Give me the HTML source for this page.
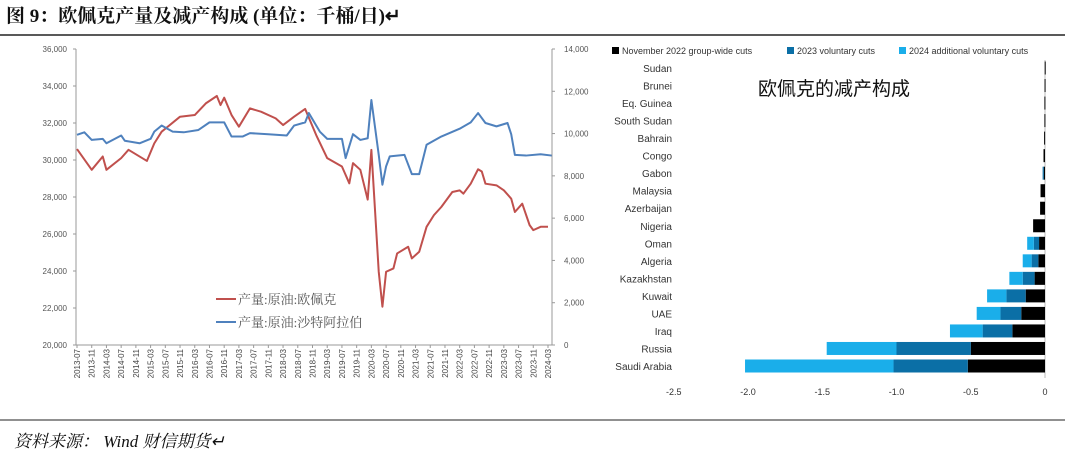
<!DOCTYPE html>
<html><head><meta charset="utf-8">
<style>
html,body{margin:0;padding:0;background:#fff;}
svg{display:block;}
</style></head>
<body>
<svg id="root" width="1080" height="455" viewBox="0 0 1080 455" xmlns="http://www.w3.org/2000/svg">
  <text x="6" y="22" font-family="'Liberation Serif','Noto Serif CJK SC',serif" font-size="19" font-weight="bold" fill="#111">图 9：欧佩克产量及减产构成  (单位：千桶/日)↵</text>
  <line x1="0" y1="35" x2="1065" y2="35" stroke="#222" stroke-width="1.5"/>
  <line x1="0" y1="420" x2="1065" y2="420" stroke="#222" stroke-width="1"/>
  <text x="14" y="447" font-family="'Liberation Serif','Noto Serif CJK SC',serif" font-size="17" font-style="italic" fill="#111">资料来源：  Wind 财信期货↵</text>
  <g id="left"></g>
  <g id="right"></g>
</svg>
<script>
// ---------- Left chart data ----------
const lMonths = [0,4,7,8,12,14,19,21,23,28,32,35,38,39,40,42,44,47,50,54,56,59,62,65,68,72,74,75,77,79,80,82,83,84,86,87,90,91,93,95,97,99,102,104,105,107,109,110,111,114,116,118,119,121,123,124,126,128];
const opecValues = [30590,29470,30190,29470,30100,30550,29950,30900,31530,32340,32430,33060,33460,32970,33370,32430,31800,32790,32610,32250,31890,32340,32760,31350,30100,29650,28740,29830,29470,27860,30550,23960,22070,23960,24140,24950,25310,24680,25040,26390,27020,27460,28270,28360,28180,28720,29500,29380,28720,28630,28360,27910,27190,27640,26480,26210,26390,26390];
const saMonths = [0,2,4,7,8,12,13,17,20,21,23,26,29,33,36,40,42,45,47,52,57,59,62,63,66,68,72,73,75,77,79,80,82,83,84,85,89,91,93,95,99,104,107,109,111,114,117,118,119,122,126,129];
const saudiValues = [9940,10060,9700,9750,9540,9910,9660,9540,9750,10090,10380,10090,10060,10170,10530,10530,9860,9860,10020,9970,9910,10380,10530,10970,10090,9750,9750,8840,9970,9700,9780,11590,8990,7580,8450,8920,8990,8080,8080,9470,9860,10230,10530,10970,10500,10340,10500,9970,8990,8960,9020,8960];
const leftTicks = ["36,000","34,000","32,000","30,000","28,000","26,000","24,000","22,000","20,000"];
const leftTickValues = [36000,34000,32000,30000,28000,26000,24000,22000,20000];
const rightTicks = ["14,000","12,000","10,000","8,000","6,000","4,000","2,000","0"];
const rightTickValues = [14000,12000,10000,8000,6000,4000,2000,0];
const xLabels = ["2013-07","2013-11","2014-03","2014-07","2014-11","2015-03","2015-07","2015-11","2016-03","2016-07","2016-11","2017-03","2017-07","2017-11","2018-03","2018-07","2018-11","2019-03","2019-07","2019-11","2020-03","2020-07","2020-11","2021-03","2021-07","2021-11","2022-03","2022-07","2022-11","2023-03","2023-07","2023-11","2024-03"];

// ---------- Right chart data ----------
const countries = ["Sudan","Brunei","Eq. Guinea","South Sudan","Bahrain","Congo","Gabon","Malaysia","Azerbaijan","Nigeria","Oman","Algeria","Kazakhstan","Kuwait","UAE","Iraq","Russia","Saudi Arabia"];
const cuts2022 = [0.002,0.003,0.004,0.004,0.006,0.01,0.008,0.03,0.033,0.08,0.04,0.045,0.07,0.13,0.16,0.22,0.5,0.52];
const cuts2023 = [0,0,0,0,0,0,0.008,0,0,0,0.035,0.045,0.08,0.13,0.14,0.2,0.5,0.5];
const cuts2024 = [0,0,0,0,0,0,0,0,0,0,0.045,0.06,0.09,0.13,0.16,0.22,0.47,1.0];
const xTickValues = [-2.5,-2.0,-1.5,-1.0,-0.5,0];
const xTickLabels = ["-2.5","-2.0","-1.5","-1.0","-0.5","0"];
const seriesNames = ["November 2022 group-wide cuts","2023 voluntary cuts","2024 additional voluntary cuts"];
const seriesColors = ["#000000","#0b6fa6","#1aaeea"];

const NS = "http://www.w3.org/2000/svg";
function mk(tag, attrs, parent){ const e=document.createElementNS(NS,tag); for(const k in attrs) e.setAttribute(k,attrs[k]); parent.appendChild(e); return e; }

// ---- left chart ----
(function(){
  const g = document.getElementById('left');
  const L=76, R=552, T=49, B=345;
  const x0=77, x1=548, mMax=128;
  const xs = m => x0 + (x1-x0)*m/mMax;
  const yl = v => B - (v-20000)/(36000-20000)*(B-T);
  const yr = v => B - v/14000*(B-T);
  const fnt = "'Liberation Sans',sans-serif";
  let e = mk('line',{x1:L,y1:T,x2:L,y2:B,stroke:'#999','stroke-width':1},g);
   
  e = mk('line',{x1:R,y1:T,x2:R,y2:B,stroke:'#999','stroke-width':1},g);
   
  e = mk('line',{x1:L,y1:B,x2:R,y2:B,stroke:'#999','stroke-width':1},g);
   
  leftTickValues.forEach((v,i)=>{
    const t = mk('text',{x:L-9,y:yl(v)+3,'text-anchor':'end','font-family':fnt,'font-size':8,fill:'#555'},g);
    t.textContent = leftTicks[i];
     
    mk('line',{x1:L-3,y1:yl(v),x2:L,y2:yl(v),stroke:'#999'},g);
  });
  rightTickValues.forEach((v,i)=>{
    const t = mk('text',{x:R+12,y:yr(v)+3,'text-anchor':'start','font-family':fnt,'font-size':8,fill:'#555'},g);
    t.textContent = rightTicks[i];
     
    mk('line',{x1:R,y1:yr(v),x2:R+3,y2:yr(v),stroke:'#999'},g);
  });
  xLabels.forEach((lab,i)=>{
    const x = xs(i*4);
    mk('line',{x1:x,y1:B,x2:x,y2:B+3,stroke:'#999'},g);
    const t = mk('text',{x:0,y:0,transform:`translate(${x+3},${B+4}) rotate(-90)`,'text-anchor':'end','font-family':fnt,'font-size':8,fill:'#444'},g);
    t.textContent = lab;
     
  });
  const p1 = mk('polyline',{points:lMonths.map((m,i)=>xs(m)+','+yl(opecValues[i])).join(' '),fill:'none',stroke:'#c0504d','stroke-width':2,'stroke-linejoin':'round'},g);
   
  const p2 = mk('polyline',{points:saMonths.map((m,i)=>xs(m)+','+yr(saudiValues[i])).join(' '),fill:'none',stroke:'#4f81bd','stroke-width':2,'stroke-linejoin':'round'},g);
   
  const leg=[["#c0504d","产量:原油:欧佩克",299],["#4f81bd","产量:原油:沙特阿拉伯",322]];
  leg.forEach(l=>{
    const ln = mk('line',{x1:216,y1:l[2],x2:236,y2:l[2],stroke:l[0],'stroke-width':2},g);
     
    const t = mk('text',{x:238,y:l[2]+5,'font-family':"'Liberation Serif','Noto Serif CJK SC',serif",'font-size':13,fill:'#555'},g);
    t.textContent=l[1];
     
  });
})();

// ---- right chart ----
(function(){
  const g = document.getElementById('right');
  const zeroX=1045, unit=148.5;
  const xv = v => zeroX + v*unit;
  const rowY = i => 68 + i*(366-68)/17;
  const fnt = "'Liberation Sans',sans-serif";
  // legend
  let lx=612;
  const legW=[175,112,160];
  seriesNames.forEach((n,i)=>{
    const r = mk('rect',{x:lx,y:47,width:7,height:7,fill:seriesColors[i]},g);
     
    const t = mk('text',{x:lx+10,y:54,'font-family':fnt,'font-size':9,fill:'#333'},g);
    t.textContent=n;
     
    lx += legW[i];
  });
  const tt = mk('text',{x:758,y:95,'font-family':"'Liberation Sans','Noto Sans CJK SC',sans-serif",'font-size':19,fill:'#111'},g);
  tt.textContent='欧佩克的减产构成';
   
  const ax = mk('line',{x1:zeroX,y1:60,x2:zeroX,y2:378,stroke:'#bbb','stroke-width':1},g);
   
  countries.forEach((c,i)=>{
    const y=rowY(i);
    const t = mk('text',{x:672,y:y+4,'text-anchor':'end','font-family':fnt,'font-size':10,fill:'#333'},g);
    t.textContent=c;
     
    let start=0;
    [cuts2022,cuts2023,cuts2024].forEach((arr,s)=>{
      const v=arr[i]; if(v<=0) return;
      const r = mk('rect',{x:xv(-(start+v)),y:y-6.5,width:Math.max(v*unit,1),height:13,fill:seriesColors[s]},g);
       
      start+=v;
    });
  });
  xTickValues.forEach((v,i)=>{
    const t = mk('text',{x:xv(v),y:395,'text-anchor':'middle','font-family':fnt,'font-size':9,fill:'#333'},g);
    t.textContent=xTickLabels[i];
     
  });
})();
</script>
</body></html>
